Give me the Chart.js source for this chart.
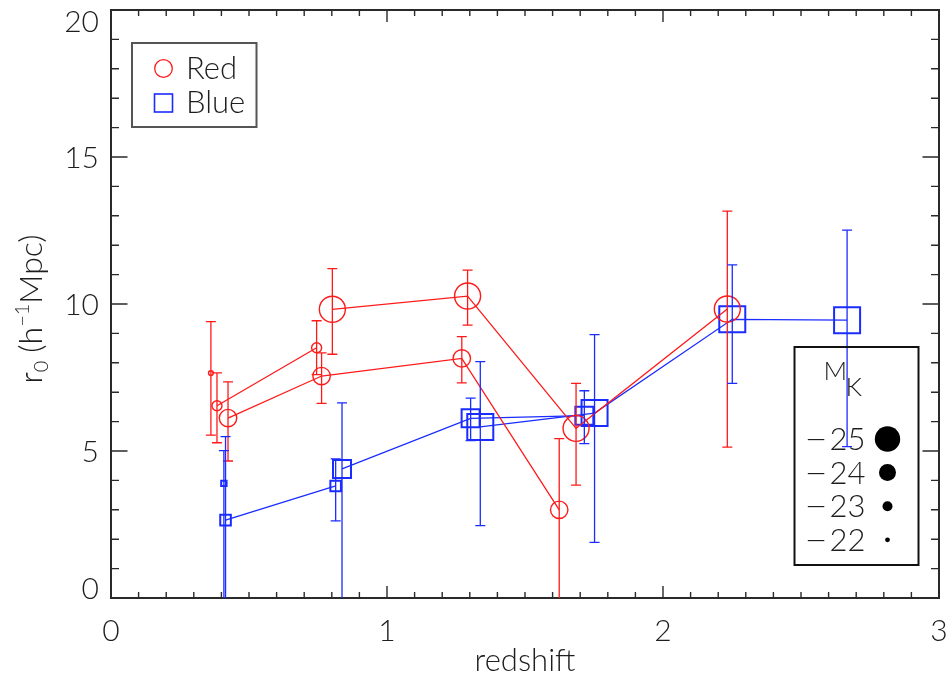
<!DOCTYPE html>
<html>
<head>
<meta charset="utf-8">
<script src="https://cdn.jsdelivr.net/npm/chart.js@4.4.1/dist/chart.umd.min.js"></script>
<style>
  html, body { margin: 0; padding: 0; background: #ffffff; }
  canvas { display: block; }
</style>
</head>
<body>
<canvas id="chart" width="952" height="680"></canvas>
<script>
// Correlation length r0 against redshift for red and blue galaxies,
// split into K-band absolute magnitude bins (marker size = bin).

// ---- axis ticks ----
const xTickValues = [0, 1, 2, 3];
const yTickValues = [0, 5, 10, 15, 20];

// ---- magnitude bins (legend) ----
const magBins = [-25, -24, -23, -22];

// ---- red sample ----
const redZ22  = [0.362];
const redR22  = [7.65];
const redLo22 = [5.54];
const redHi22 = [9.40];

const redZ23  = [0.384, 0.745];
const redR23  = [6.54, 8.51];
const redLo23 = [5.28, 7.60];
const redHi23 = [7.66, 9.43];

const redZ24  = [0.424, 0.763, 1.271, 1.624];
const redR24  = [6.12, 7.55, 8.15, 3.00];
const redLo24 = [4.66, 6.62, 7.32, -0.5];
const redHi24 = [7.35, 8.34, 8.89, 5.42];

const redZ25  = [0.802, 1.292, 1.685, 2.233];
const redR25  = [9.82, 10.27, 5.77, 9.83];
const redLo25 = [8.29, 9.28, 3.84, 5.13];
const redHi25 = [11.20, 11.15, 7.30, 13.16];

// ---- blue sample ----
const blueZ22  = [0.409];
const blueR22  = [3.90];
const blueLo22 = [-0.5];
const blueHi22 = [5.01];

const blueZ23  = [0.415, 0.814];
const blueR23  = [2.65, 3.81];
const blueLo23 = [-0.5, 2.62];
const blueHi23 = [5.49, 4.73];

const blueZ24  = [0.837, 1.303, 1.715];
const blueR24  = [4.39, 6.11, 6.20];
const blueLo24 = [-0.5, 5.35, 5.25];
const blueHi24 = [6.64, 6.80, 7.05];

const blueZ25  = [1.338, 1.752, 2.251, 2.667];
const blueR25  = [5.82, 6.29, 9.48, 9.45];
const blueLo25 = [2.46, 1.89, 7.30, 5.15];
const blueHi25 = [8.04, 8.96, 11.33, 12.51];

// ---- styling ----
const FONT = 'Lato, "DejaVu Sans", sans-serif';
const FONT_WEIGHT = '300';
const TICK_SIZE = 30;
const TEXT_SIZE = 31;
const TEXT_COLOR = '#1e1e1e';
const AXIS_COLOR = '#2a2a2a';
const RED = '#ff1a1a';
const BLUE = '#1a2cff';
// marker size per magnitude bin: circle radius (px)
const circleSize = { '-22': 2.4, '-23': 5, '-24': 8.7, '-25': 13 };
// square half-width (px); Chart.js 'rect' uses radius * sqrt(1/2)
const squareHalf = { '-22': 2.7, '-23': 5.3, '-24': 9, '-25': 13 };

function series(label, z, r, lo, hi, color, kind, bin) {
  const isCircle = kind === 'circle';
  const radius = isCircle ? circleSize[bin] : squareHalf[bin] / Math.SQRT1_2;
  return {
    label,
    data: z.map((zz, i) => ({ x: zz, y: r[i] })),
    errLo: lo,
    errHi: hi,
    showLine: z.length > 1,
    borderColor: color,
    backgroundColor: 'rgba(0,0,0,0)',
    borderWidth: 1.3,
    pointStyle: isCircle ? 'circle' : 'rect',
    pointRadius: radius,
    pointHoverRadius: radius,
    pointBorderWidth: isCircle ? 1.4 : 2,
    pointBorderColor: color,
    pointBackgroundColor: 'rgba(0,0,0,0)',
    tension: 0
  };
}

const datasets = [
  series('Red -25', redZ25, redR25, redLo25, redHi25, RED, 'circle', '-25'),
  series('Red -24', redZ24, redR24, redLo24, redHi24, RED, 'circle', '-24'),
  series('Red -23', redZ23, redR23, redLo23, redHi23, RED, 'circle', '-23'),
  series('Red -22', redZ22, redR22, redLo22, redHi22, RED, 'circle', '-22'),
  series('Blue -25', blueZ25, blueR25, blueLo25, blueHi25, BLUE, 'rect', '-25'),
  series('Blue -24', blueZ24, blueR24, blueLo24, blueHi24, BLUE, 'rect', '-24'),
  series('Blue -23', blueZ23, blueR23, blueLo23, blueHi23, BLUE, 'rect', '-23'),
  series('Blue -22', blueZ22, blueR22, blueLo22, blueHi22, BLUE, 'rect', '-22')
];

function font(size) {
  return FONT_WEIGHT + ' ' + size + 'px ' + FONT;
}

// Draw a run of text pieces (with sub/superscripts) left to right.
function drawRich(ctx, parts, x, y) {
  let cx = x;
  parts.forEach(p => {
    ctx.font = font(p.size);
    ctx.fillText(p.text, cx, y + (p.dy || 0));
    cx += ctx.measureText(p.text).width + (p.gap || 0);
  });
}
function richWidth(ctx, parts) {
  let w = 0;
  parts.forEach(p => { ctx.font = font(p.size); w += ctx.measureText(p.text).width + (p.gap || 0); });
  return w;
}

// A long minus sign: the glyph stretched horizontally to a given ink width.
function drawLongMinus(ctx, x, y, inkWidth) {
  const m = ctx.measureText('\u2212');
  const ink = Math.max(1, m.actualBoundingBoxRight + m.actualBoundingBoxLeft);
  const s = inkWidth / ink;
  ctx.save();
  ctx.translate(x, y);
  ctx.scale(s, 1);
  ctx.fillText('\u2212', m.actualBoundingBoxLeft, 0);
  ctx.restore();
}

// Plot frame with major/minor ticks on all four sides, and the y-axis labels
// (the end labels are kept inside the frame height).
const framePlugin = {
  id: 'frame',
  beforeDatasetsDraw(chart) {
    const { ctx, chartArea: a, scales: { x, y } } = chart;
    ctx.save();
    ctx.strokeStyle = AXIS_COLOR;
    ctx.lineWidth = 1.4;
    ctx.beginPath();
    for (let k = 0; k <= 30; k++) {
      const px = x.getPixelForValue(k / 10);
      const len = k % 10 === 0 ? 12 : 6;
      ctx.moveTo(px, a.bottom); ctx.lineTo(px, a.bottom - len);
      ctx.moveTo(px, a.top); ctx.lineTo(px, a.top + len);
    }
    for (let k = 0; k <= 20; k++) {
      const py = y.getPixelForValue(k);
      const len = k % 5 === 0 ? 16.5 : 8;
      ctx.moveTo(a.left, py); ctx.lineTo(a.left + len, py);
      ctx.moveTo(a.right, py); ctx.lineTo(a.right - len, py);
    }
    ctx.stroke();
    ctx.lineWidth = 2;
    ctx.strokeRect(a.left, a.top, a.right - a.left, a.bottom - a.top);

    ctx.fillStyle = TEXT_COLOR;
    ctx.font = font(TICK_SIZE);
    ctx.textAlign = 'right';
    ctx.textBaseline = 'alphabetic';
    const first = yTickValues[0], last = yTickValues[yTickValues.length - 1];
    yTickValues.forEach(v => {
      const py = y.getPixelForValue(v);
      let base = py + 11;
      if (v === last) base = py + 22;
      if (v === first) base = py + 1;
      ctx.fillText(String(v), a.left - 12, base);
    });
    ctx.restore();
  }
};

// Vertical error bars with caps, clipped to the plot area.
const errorBarPlugin = {
  id: 'errorBars',
  afterDatasetsDraw(chart) {
    const { ctx, chartArea: a, scales: { x, y } } = chart;
    ctx.save();
    ctx.beginPath();
    ctx.rect(a.left, a.top, a.right - a.left, a.bottom - a.top);
    ctx.clip();
    chart.data.datasets.forEach(ds => {
      ctx.strokeStyle = ds.borderColor;
      ctx.lineWidth = 1.3;
      ds.data.forEach((p, i) => {
        const px = x.getPixelForValue(p.x);
        const yl = y.getPixelForValue(ds.errLo[i]);
        const yh = y.getPixelForValue(ds.errHi[i]);
        ctx.beginPath();
        ctx.moveTo(px, yl); ctx.lineTo(px, yh);
        ctx.moveTo(px - 5, yl); ctx.lineTo(px + 5, yl);
        ctx.moveTo(px - 5, yh); ctx.lineTo(px + 5, yh);
        ctx.stroke();
      });
    });
    ctx.restore();
  }
};

// Y-axis title with subscript and superscript, and the two legend boxes.
const annotationPlugin = {
  id: 'annotations',
  afterDraw(chart) {
    const { ctx, chartArea: a } = chart;
    ctx.save();
    ctx.fillStyle = TEXT_COLOR;
    ctx.textAlign = 'left';
    ctx.textBaseline = 'alphabetic';

    // y-axis title
    const title = [
      { text: 'r', size: 32 },
      { text: '0', size: 20, dy: 6, gap: 8 },
      { text: '(h', size: 32 },
      { text: '\u22121', size: 20, dy: -13 },
      { text: 'Mpc)', size: 32 }
    ];
    ctx.save();
    ctx.translate(42, 309);
    ctx.rotate(-Math.PI / 2);
    drawRich(ctx, title, -richWidth(ctx, title) / 2, 0);
    ctx.restore();

    // colour legend (upper left)
    const lx = a.left + 21, ly = a.top + 33;
    ctx.strokeStyle = '#555555';
    ctx.lineWidth = 2;
    ctx.strokeRect(lx, ly, 124.5, 84);
    ctx.strokeStyle = RED;
    ctx.lineWidth = 1.3;
    ctx.beginPath();
    ctx.arc(lx + 31.5, ly + 25.5, 8.8, 0, Math.PI * 2);
    ctx.stroke();
    ctx.strokeStyle = BLUE;
    ctx.lineWidth = 1.6;
    ctx.strokeRect(lx + 22.5, ly + 51, 18, 18);
    ctx.font = font(TEXT_SIZE);
    ctx.textBaseline = 'alphabetic';
    ctx.fillText('Red', lx + 54, ly + 36);
    ctx.fillText('Blue', lx + 54, ly + 70);

    // magnitude legend (right)
    const mx = 794.5, my = 347, mw = 124, mh = 218;
    ctx.strokeStyle = '#111111';
    ctx.lineWidth = 2;
    ctx.strokeRect(mx, my, mw, mh);
    ctx.fillStyle = TEXT_COLOR;
    ctx.font = font(26);
    ctx.fillText('M', mx + 29, my + 33);
    ctx.fillText('K', mx + 51, my + 49);
    const dotR = { '-25': 12.7, '-24': 8.5, '-23': 5, '-22': 2.4 };
    magBins.forEach((m, i) => {
      const rowY = my + 92 + i * 33.6;
      ctx.fillStyle = TEXT_COLOR;
      ctx.font = font(TEXT_SIZE);
      drawLongMinus(ctx, mx + 12.5, rowY + 11, 18);
      ctx.fillText(String(Math.abs(m)), mx + 35, rowY + 11);
      ctx.fillStyle = '#000000';
      ctx.beginPath();
      ctx.arc(mx + 93, rowY, dotR[String(m)], 0, Math.PI * 2);
      ctx.fill();
    });
    ctx.restore();
  }
};

new Chart(document.getElementById('chart'), {
  type: 'scatter',
  data: { datasets },
  options: {
    responsive: false,
    animation: false,
    devicePixelRatio: 1,
    layout: { autoPadding: false, padding: { top: 10, right: 13, left: 0, bottom: 0 } },
    plugins: {
      legend: { display: false },
      tooltip: { enabled: false },
      title: { display: false }
    },
    scales: {
      x: {
        type: 'linear',
        min: xTickValues[0],
        max: xTickValues[xTickValues.length - 1],
        afterBuildTicks(scale) { scale.ticks = xTickValues.map(v => ({ value: v })); },
        afterFit(scale) {
          scale.height = 82;
          scale.paddingLeft = 0;
          scale.paddingRight = 0;
        },
        grid: { display: false, drawTicks: false },
        border: { display: false },
        ticks: {
          padding: 15,
          color: TEXT_COLOR,
          font: { family: FONT, size: TICK_SIZE, weight: FONT_WEIGHT },
          maxRotation: 0,
          callback: v => String(v)
        },
        title: {
          display: true,
          text: 'redshift',
          color: TEXT_COLOR,
          font: { family: FONT, size: TEXT_SIZE, weight: FONT_WEIGHT },
          padding: { top: 0, bottom: 0 }
        }
      },
      y: {
        type: 'linear',
        min: yTickValues[0],
        max: yTickValues[yTickValues.length - 1],
        afterBuildTicks(scale) { scale.ticks = yTickValues.map(v => ({ value: v })); },
        afterFit(scale) {
          scale.width = 111;
          scale.paddingTop = 0;
          scale.paddingBottom = 0;
        },
        grid: { display: false, drawTicks: false },
        border: { display: false },
        ticks: { display: false }
      }
    }
  },
  plugins: [framePlugin, errorBarPlugin, annotationPlugin]
});
</script>
</body>
</html>
